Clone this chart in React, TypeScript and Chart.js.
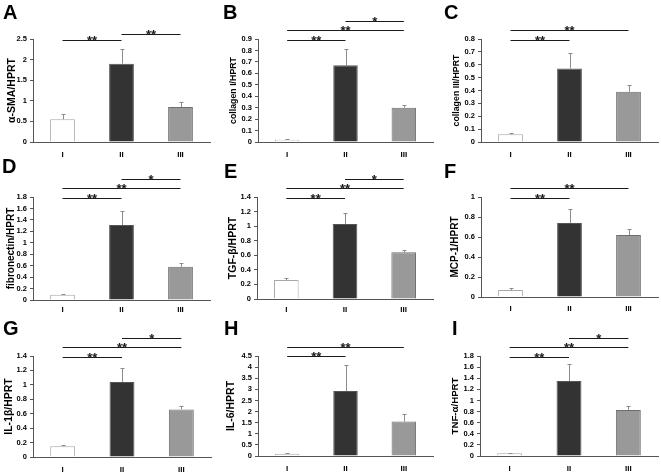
import React, { useEffect, useRef } from "react";
import { Chart, registerables } from "chart.js";
Chart.register(...registerables);

const FONT = "Arial, 'Liberation Sans', Helvetica, sans-serif";
Chart.defaults.font.family = FONT;

// ---------- data ----------
const categories = ["I", "II", "III"];
const panelLetters = ["A", "B", "C", "D", "E", "F", "G", "H", "I"];
const yTitles = [
  "α-SMA/HPRT",
  "collagen I/HPRT",
  "collagen III/HPRT",
  "fibronectin/HPRT",
  "TGF-β/HPRT",
  "MCP-1/HPRT",
  "IL-1β/HPRT",
  "IL-6/HPRT",
  "TNF-α/HPRT",
];
const yMaxes = [2.5, 0.9, 0.8, 1.8, 1.4, 1, 1.4, 4.5, 1.8];
const ySteps = [0.5, 0.1, 0.1, 0.2, 0.2, 0.2, 0.2, 0.5, 0.2];

// means and upper ends of the error bars (mean + SD)
const aSmaMean = [0.55, 1.9, 0.85];
const aSmaUpper = [0.67, 2.25, 0.97];
const col1Mean = [0.02, 0.67, 0.3];
const col1Upper = [0.025, 0.815, 0.32];
const col3Mean = [0.06, 0.57, 0.39];
const col3Upper = [0.07, 0.69, 0.44];
const fibMean = [0.09, 1.31, 0.58];
const fibUpper = [0.11, 1.56, 0.64];
const tgfMean = [0.26, 1.03, 0.64];
const tgfUpper = [0.29, 1.18, 0.67];
const mcpMean = [0.07, 0.74, 0.62];
const mcpUpper = [0.09, 0.88, 0.68];
const il1Mean = [0.15, 1.04, 0.66];
const il1Upper = [0.16, 1.23, 0.71];
const il6Mean = [0.1, 2.93, 1.55];
const il6Upper = [0.12, 4.1, 1.88];
const tnfMean = [0.05, 1.35, 0.83];
const tnfUpper = [0.06, 1.65, 0.9];

// significance brackets: [from category, to category, level (axis units), label]
const aSmaSig: [number, number, number, string][] = [[0, 1, 2.48, "**"], [1, 2, 2.62, "**"]];
const col1Sig: [number, number, number, string][] = [[0, 1, 0.89, "**"], [0, 2, 0.98, "**"], [1, 2, 1.06, "*"]];
const col3Sig: [number, number, number, string][] = [[0, 1, 0.79, "**"], [0, 2, 0.87, "**"]];
const fibSig: [number, number, number, string][] = [[0, 1, 1.79, "**"], [0, 2, 1.96, "**"], [1, 2, 2.12, "*"]];
const tgfSig: [number, number, number, string][] = [[0, 1, 1.39, "**"], [0, 2, 1.52, "**"], [1, 2, 1.65, "*"]];
const mcpSig: [number, number, number, string][] = [[0, 1, 0.99, "**"], [0, 2, 1.09, "**"]];
const il1Sig: [number, number, number, string][] = [[0, 1, 1.39, "**"], [0, 2, 1.53, "**"], [1, 2, 1.65, "*"]];
const il6Sig: [number, number, number, string][] = [[0, 1, 4.49, "**"], [0, 2, 4.91, "**"]];
const tnfSig: [number, number, number, string][] = [[0, 1, 1.78, "**"], [0, 2, 1.96, "**"], [1, 2, 2.12, "*"]];

const means = [aSmaMean, col1Mean, col3Mean, fibMean, tgfMean, mcpMean, il1Mean, il6Mean, tnfMean];
const uppers = [aSmaUpper, col1Upper, col3Upper, fibUpper, tgfUpper, mcpUpper, il1Upper, il6Upper, tnfUpper];
const sigs = [aSmaSig, col1Sig, col3Sig, fibSig, tgfSig, mcpSig, il1Sig, il6Sig, tnfSig];

// ---------- layout / style ----------
const layouts = [
  { x: 0, y: 0, w: 220, h: 158, L: 33, R: 210, T: 39, B: 142, tc: 12, tf: 10.5, lx: 3, ly: 19, lp: 7.5 },
  { x: 220, y: 0, w: 220, h: 158, L: 258, R: 433, T: 39, B: 142, tc: 13.5, tf: 8.8, lx: 223, ly: 19, lp: 7.5 },
  { x: 440, y: 0, w: 221, h: 158, L: 481, R: 658, T: 39, B: 142, tc: 16.5, tf: 8.8, lx: 444, ly: 19, lp: 7.5 },
  { x: 0, y: 158, w: 220, h: 158, L: 33, R: 210, T: 197, B: 300, tc: 11.5, tf: 10, lx: 2, ly: 173, lp: 5 },
  { x: 220, y: 158, w: 220, h: 158, L: 257, R: 433, T: 197, B: 299, tc: 13, tf: 10.5, lx: 224, ly: 178, lp: 6 },
  { x: 440, y: 158, w: 221, h: 158, L: 481, R: 658, T: 197, B: 297, tc: 15, tf: 10, lx: 444, ly: 178, lp: 7 },
  { x: 0, y: 316, w: 220, h: 159, L: 33, R: 211, T: 356, B: 457, tc: 9, tf: 10.5, lx: 3, ly: 335, lp: 7.5 },
  { x: 220, y: 316, w: 220, h: 159, L: 258, R: 433, T: 356, B: 456, tc: 11.5, tf: 10.5, lx: 224, ly: 335, lp: 7.5 },
  { x: 440, y: 316, w: 221, h: 159, L: 480, R: 658, T: 356, B: 456, tc: 15.5, tf: 9.7, lx: 452, ly: 335, lp: 8 },
];

const barFill = ["#ffffff", "#333333", "#999999"];
const barBorder = ["#a8a8a8", "#555555", "#6e6e6e"];
const axisColor = "#555555";

function Panel({ idx }: { idx: number }) {
  const ref = useRef<HTMLCanvasElement | null>(null);
  const lay = layouts[idx];
  useEffect(() => {
    if (!ref.current) return;
    const mean = means[idx];
    const upper = uppers[idx];
    const sig = sigs[idx];
    const annot = {
      id: "annot" + idx,
      afterDatasetsDraw(chart: any) {
        const ctx = chart.ctx as CanvasRenderingContext2D;
        const xs = chart.scales.x;
        const ys = chart.scales.y;
        ctx.save();
        // error bars
        ctx.strokeStyle = "#8c8c8c";
        ctx.lineWidth = 1;
        mean.forEach((m, i) => {
          const x = Math.round(xs.getPixelForValue(i)) + 0.5;
          const y0 = ys.getPixelForValue(m);
          const y1 = Math.round(ys.getPixelForValue(upper[i])) + 0.5;
          ctx.beginPath();
          ctx.moveTo(x, y0);
          ctx.lineTo(x, y1);
          ctx.moveTo(x - 2, y1);
          ctx.lineTo(x + 2, y1);
          ctx.stroke();
        });
        // significance brackets
        sig.forEach(([a, b, lv, lab]) => {
          const x1 = xs.getPixelForValue(a);
          const x2 = xs.getPixelForValue(b);
          const y = Math.round(ys.getPixelForValue(lv)) + 0.5;
          ctx.strokeStyle = "#1a1a1a";
          ctx.lineWidth = 1.2;
          ctx.beginPath();
          ctx.moveTo(x1, y);
          ctx.lineTo(x2, y);
          ctx.stroke();
          ctx.fillStyle = "#1a1a1a";
          ctx.font = "bold 13px " + FONT;
          ctx.textAlign = "center";
          ctx.textBaseline = "alphabetic";
          ctx.fillText(lab, (x1 + x2) / 2, y + 4.5);
        });
        // panel letter
        ctx.fillStyle = "#000";
        ctx.font = "bold 20px " + FONT;
        ctx.textAlign = "left";
        ctx.textBaseline = "alphabetic";
        ctx.fillText(panelLetters[idx], lay.lx - lay.x, lay.ly - lay.y);
        ctx.restore();
      },
    };
    const chart = new Chart(ref.current, {
      type: "bar",
      data: {
        labels: categories,
        datasets: [
          {
            data: mean,
            backgroundColor: barFill,
            borderColor: barBorder,
            borderWidth: 1,
            barPercentage: 0.42,
            categoryPercentage: 1,
          },
        ],
      },
      options: {
        responsive: false,
        animation: false,
        events: [],
        layout: {
          padding: { left: 0, top: lay.T - lay.y, right: lay.x + lay.w - lay.R, bottom: 0 },
        },
        plugins: { legend: { display: false }, tooltip: { enabled: false }, title: { display: false } },
        scales: {
          x: {
            grid: { display: false, drawTicks: false },
            border: { display: true, color: axisColor, width: 1 },
            ticks: { color: "#000", font: { size: 8, weight: "bold" }, padding: lay.lp, autoSkip: false, maxRotation: 0 },
            afterFit: (s: any) => {
              s.height = lay.y + lay.h - lay.B;
            },
          },
          y: {
            min: 0,
            max: yMaxes[idx],
            ticks: {
              stepSize: ySteps[idx],
              autoSkip: false,
              color: "#000",
              font: { size: 7.5, weight: "bold" },
              padding: 3,
              callback: (v: any) => String(Number(Number(v).toFixed(2))),
            },
            grid: { drawOnChartArea: false, drawTicks: true, tickLength: 3, color: axisColor },
            border: { display: true, color: axisColor, width: 1 },
            title: {
              display: true,
              text: yTitles[idx],
              color: "#000",
              font: { size: lay.tf, weight: "bold" },
              padding: { top: lay.tc - (lay.tf * 1.2) / 2, bottom: 0 },
            },
            afterFit: (s: any) => {
              s.width = lay.L - lay.x;
            },
          },
        },
      },
      plugins: [annot],
    });
    return () => chart.destroy();
  }, [idx]);
  return (
    <canvas
      ref={ref}
      width={lay.w}
      height={lay.h}
      style={{ position: "absolute", left: lay.x, top: lay.y, width: lay.w, height: lay.h }}
    />
  );
}

export default function App() {
  return (
    <div style={{ position: "absolute", left: 0, top: 0, width: 661, height: 475, background: "#fff", overflow: "hidden" }}>
      {layouts.map((_, i) => (
        <Panel key={i} idx={i} />
      ))}
    </div>
  );
}
